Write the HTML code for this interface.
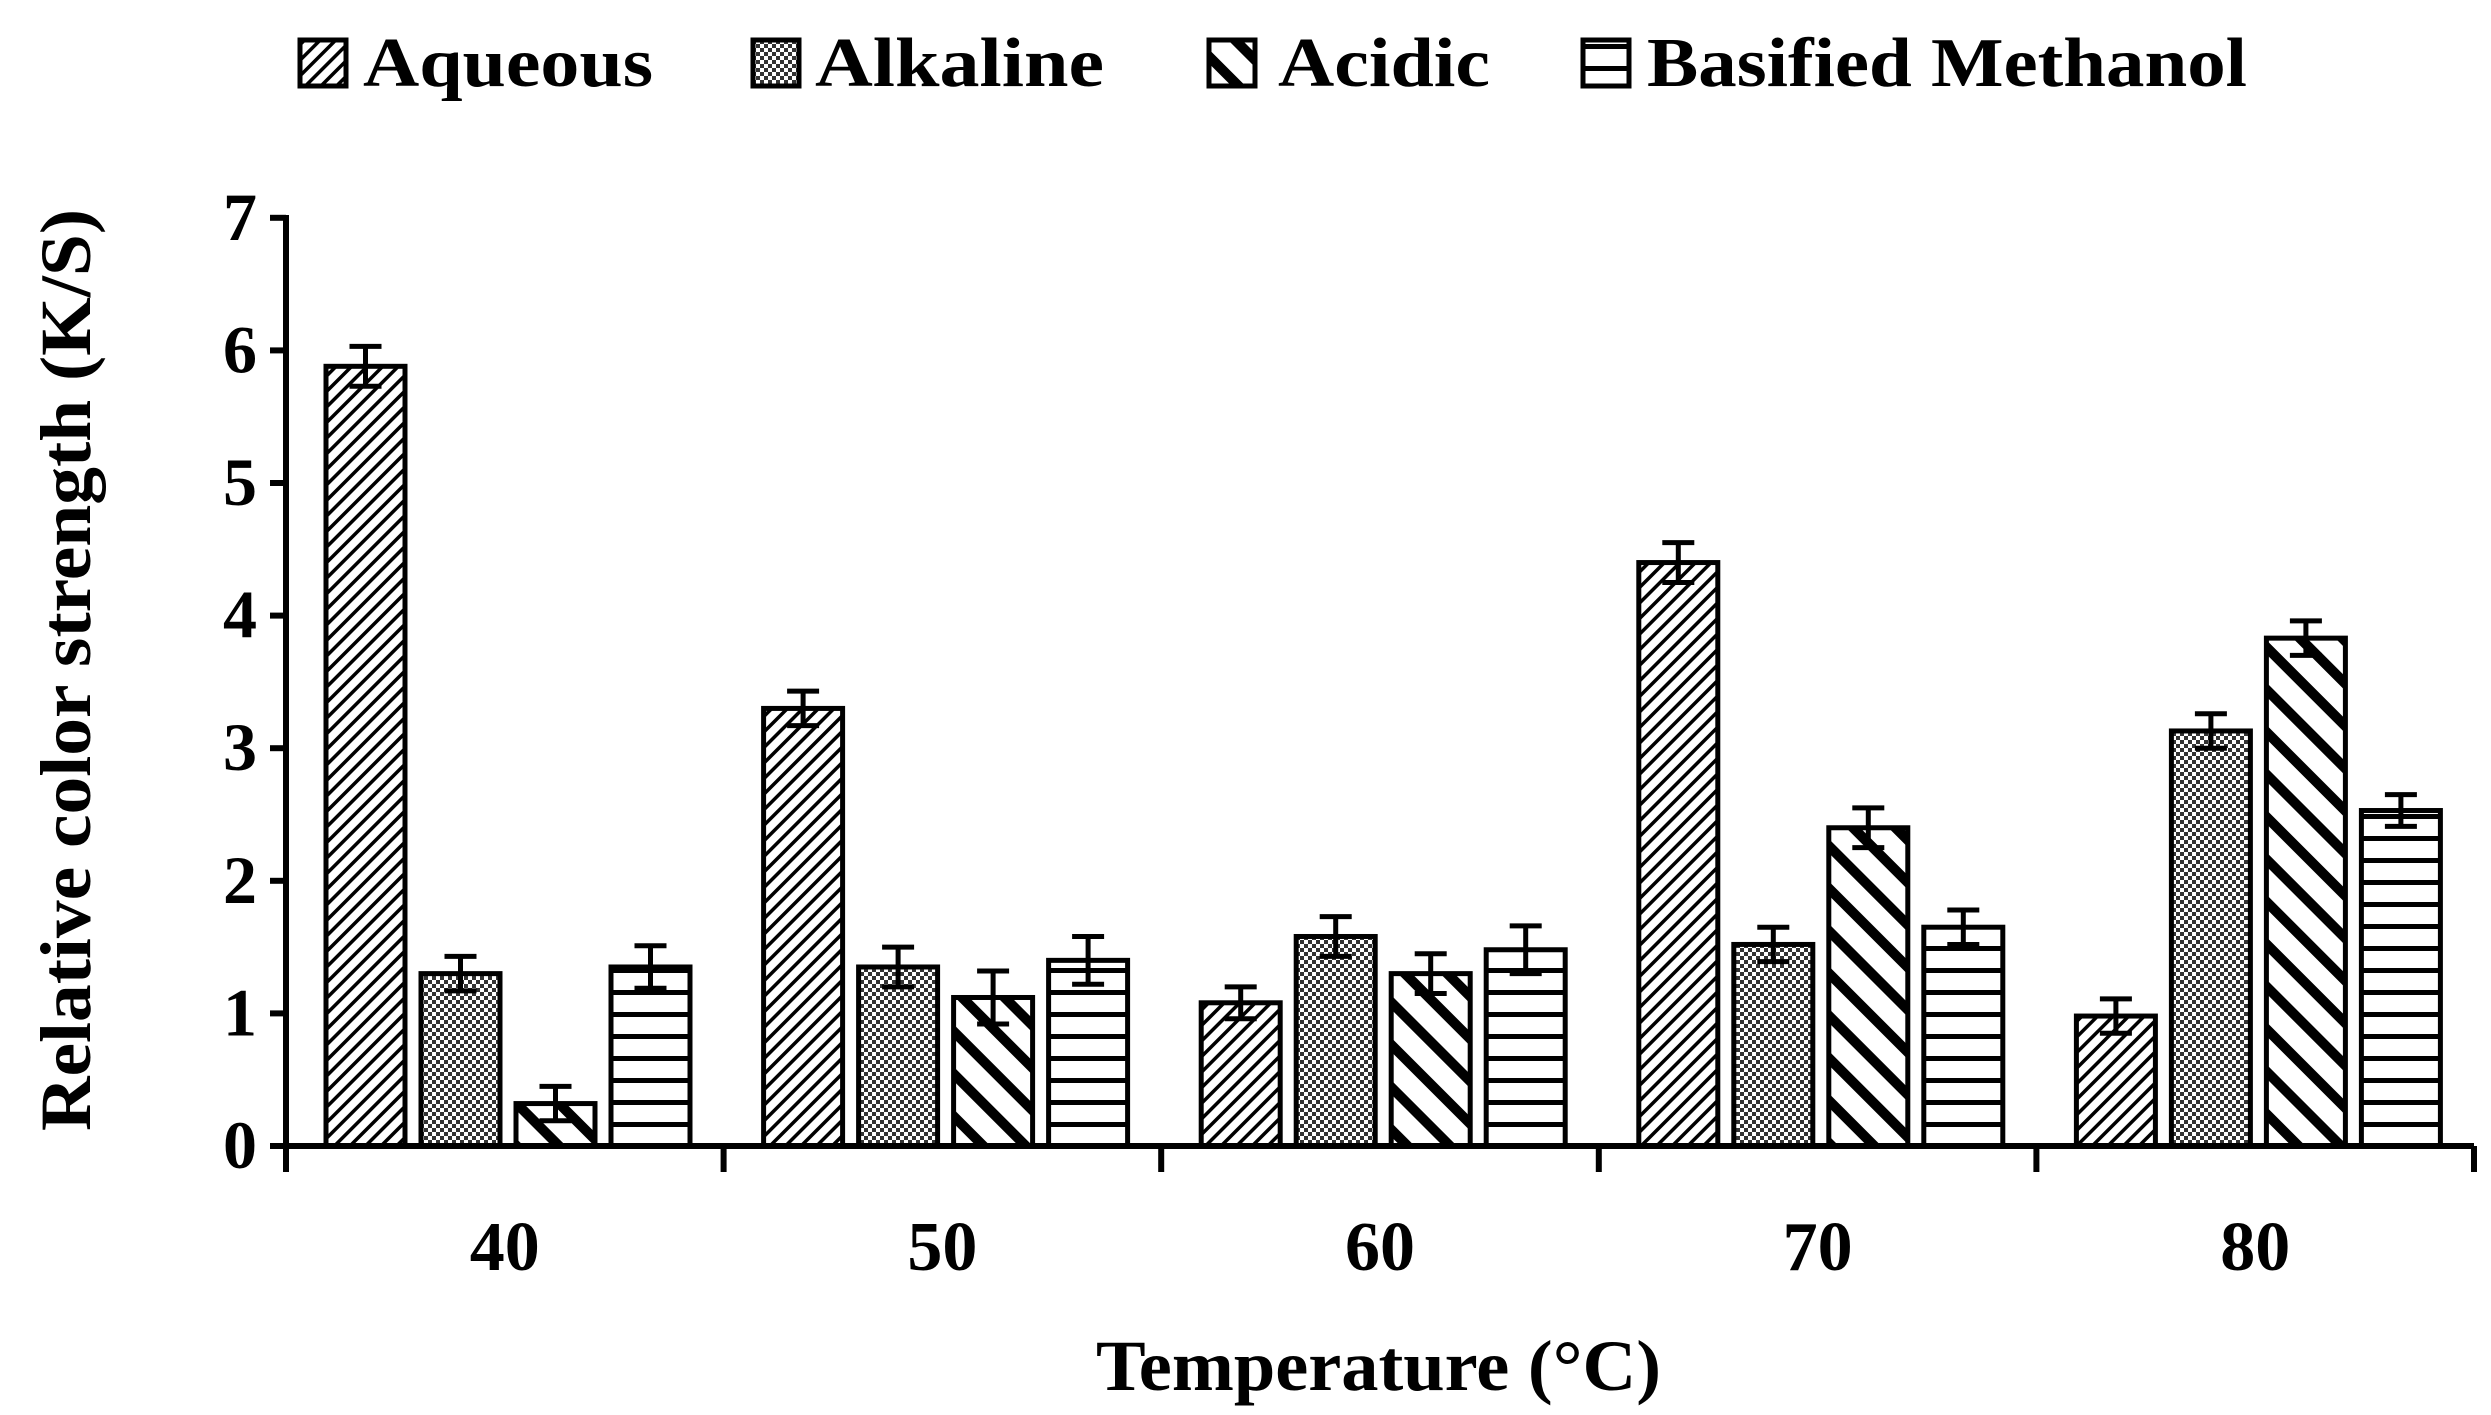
<!DOCTYPE html>
<html><head><meta charset="utf-8"><style>
html,body{margin:0;padding:0;background:#fff;}
svg{display:block;}
text{font-family:"Liberation Serif",serif;font-weight:bold;fill:#000;}
</style></head><body>
<svg width="2491" height="1415" viewBox="0 0 2491 1415" xmlns="http://www.w3.org/2000/svg">
<defs>
<pattern id="aq" patternUnits="userSpaceOnUse" width="11" height="11" patternTransform="rotate(45)">
<rect width="11" height="11" fill="#fff"/><rect x="0" y="0" width="3.5" height="11" fill="#000"/></pattern>
<pattern id="al" patternUnits="userSpaceOnUse" width="8" height="8">
<rect width="8" height="8" fill="#fff"/><rect x="0" y="0" width="4" height="4" fill="#333"/><rect x="4" y="4" width="4" height="4" fill="#333"/></pattern>
<pattern id="ac" patternUnits="userSpaceOnUse" width="30" height="30" patternTransform="rotate(-45)">
<rect width="30" height="30" fill="#fff"/><rect x="0" y="0" width="10" height="30" fill="#000"/></pattern>
<pattern id="me" patternUnits="userSpaceOnUse" width="22" height="22">
<rect width="22" height="22" fill="#fff"/><rect x="0" y="0" width="22" height="5" fill="#000"/></pattern>
</defs>
<g stroke="#000" stroke-width="5">
<rect x="300" y="40" width="46" height="46" fill="url(#aq)"/>
<rect x="753" y="40" width="46" height="46" fill="url(#al)"/>
<rect x="1209" y="40" width="46" height="46" fill="url(#ac)"/>
<rect x="1583" y="40" width="46" height="46" fill="url(#me)"/>
</g>
<g font-size="70">
<text x="363" y="86" textLength="290" lengthAdjust="spacingAndGlyphs">Aqueous</text>
<text x="815" y="86" textLength="289" lengthAdjust="spacingAndGlyphs">Alkaline</text>
<text x="1278" y="86" textLength="212" lengthAdjust="spacingAndGlyphs">Acidic</text>
<text x="1647" y="86" textLength="600" lengthAdjust="spacingAndGlyphs">Basified Methanol</text>
</g>
<g id="bars" stroke="#000" stroke-width="5"></g>
<g id="errs" stroke="#000" stroke-width="5" fill="none"></g>
<g stroke="#000" stroke-width="6" fill="none">
<line x1="286" y1="215" x2="286" y2="1149"/>
<line x1="283" y1="1146" x2="2474" y2="1146"/>
</g>
<g id="ticks" stroke="#000" stroke-width="6"></g>
<g id="ylab" font-size="68" text-anchor="end"></g>
<g id="xlab" font-size="70" text-anchor="middle"></g>
<text x="1096" y="1390" font-size="72" textLength="565" lengthAdjust="spacingAndGlyphs">Temperature (°C)</text>
<text transform="translate(90,1131) rotate(-90)" font-size="72" textLength="922" lengthAdjust="spacingAndGlyphs">Relative color strength (K/S)</text>
</svg>
<script>
const ns="http://www.w3.org/2000/svg";
function el(p,t,a,txt){const e=document.createElementNS(ns,t);for(const k in a)e.setAttribute(k,a[k]);if(txt!==undefined)e.textContent=txt;document.getElementById(p).appendChild(e);}
const y0=1146,u=132.6,x0=286,gw=437.6;
const data=[[5.88,1.30,0.32,1.35],[3.30,1.35,1.12,1.40],[1.08,1.58,1.30,1.48],[4.40,1.52,2.40,1.65],[0.98,3.13,3.83,2.53]];
const errs=[[0.15,0.13,0.13,0.16],[0.13,0.15,0.2,0.18],[0.12,0.15,0.15,0.18],[0.15,0.13,0.15,0.13],[0.13,0.13,0.13,0.12]];
const fills=["url(#aq)","url(#al)","url(#ac)","url(#me)"];
for(let g=0;g<5;g++){for(let s=0;s<4;s++){const x=x0+g*gw+40+s*95,w=79,v=data[g][s],top=y0-v*u;
el("bars","rect",{x:x,y:top,width:w,height:v*u,fill:fills[s]});
const cx=x+w/2,e=errs[g][s]*u;
el("errs","path",{d:`M${cx},${top-e}V${top+e}M${cx-16},${top-e}H${cx+16}M${cx-16},${top+e}H${cx+16}`});}
el("xlab","text",{x:x0+g*gw+gw/2,y:1270},String(40+10*g));}
for(let g=0;g<=5;g++){const x=x0+g*gw;el("ticks","line",{x1:x,y1:1146,x2:x,y2:1172});}
for(let i=0;i<=7;i++){const y=y0-i*u;el("ticks","line",{x1:270,y1:y,x2:286,y2:y});el("ylab","text",{x:257,y:y+22},String(i));}
</script>
</body></html>
